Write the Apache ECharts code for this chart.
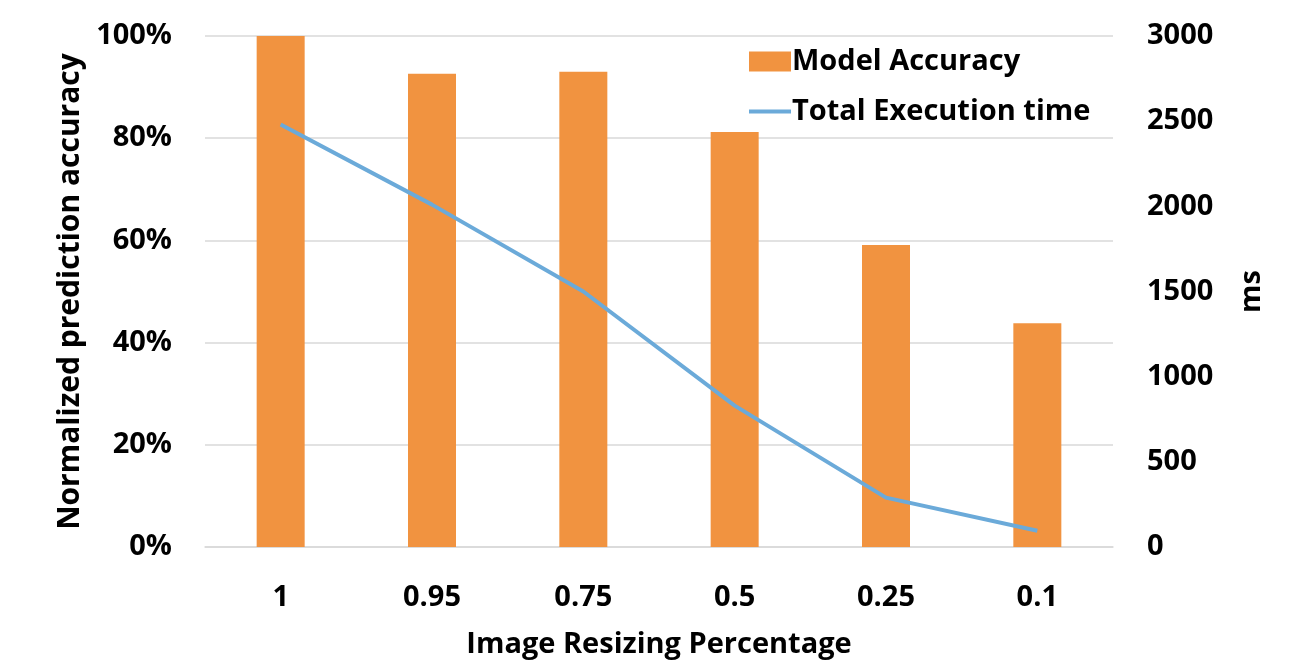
<!DOCTYPE html>
<html><head><meta charset="utf-8">
<script src="https://cdn.jsdelivr.net/npm/echarts@6/dist/echarts.min.js"></script>
<style>html,body{margin:0;padding:0;background:#fff;}#c{width:1316px;height:664px;}</style>
</head><body><div id="c"></div>
<script>
const categories = ['1', '0.95', '0.75', '0.5', '0.25', '0.1'];
const accuracy = [100, 92.6, 93.0, 81.2, 59.1, 43.8];
const execTime = [2480, 2010, 1500, 830, 290, 95];
const leftTicks = [0, 20, 40, 60, 80, 100];
const rightTicks = [0, 500, 1000, 1500, 2000, 2500, 3000];

const FONT = '"Open Sans"';
const chart = echarts.init(document.getElementById('c'), null, {renderer: 'canvas'});
chart.setOption({
  backgroundColor: '#fff',
  animation: false,
  textStyle: {fontFamily: FONT, fontWeight: 'bold', color: '#000'},
  grid: {left: 205, right: 203, top: 36, bottom: 117},
  legend: {
    orient: 'vertical', left: 744, top: 42, itemGap: 21,
    itemWidth: 42, itemHeight: 20,
    textStyle: {fontFamily: FONT, fontWeight: 'bold', fontSize: 29, color: '#000', padding: [0,0,0,-4]},
    data: [{name: 'Model Accuracy', icon: 'rect'},
           {name: 'Total Execution time', icon: 'path://M0,0h44v4h-44z', itemStyle: {color: '#6BAAD9'}}]
  },
  xAxis: {
    type: 'category', data: categories,
    axisLine: {show: true, lineStyle: {color: '#d9d9d9', width: 1.5}},
    axisTick: {show: false},
    axisLabel: {fontFamily: FONT, fontWeight: 'bold', fontSize: 29, color: '#000', margin: 36},
    name: 'Image Resizing Percentage', nameLocation: 'middle', nameGap: 83,
    nameTextStyle: {fontFamily: FONT, fontWeight: 'bold', fontSize: 29, color: '#000'}
  },
  yAxis: [{
    type: 'value', min: 0, max: 100, interval: 20,
    axisLabel: {fontFamily: FONT, fontWeight: 'bold', fontSize: 29, color: '#000', margin: 33,
      padding: [9, 0, 0, 0],
      formatter: v => leftTicks.includes(v) ? v + '%' : ''},
    axisLine: {show: false}, axisTick: {show: false},
    splitLine: {lineStyle: {color: '#d9d9d9', width: 1.5}},
    name: 'Normalized prediction accuracy', nameLocation: 'middle', nameGap: 118, nameRotate: 90,
    nameTextStyle: {fontFamily: FONT, fontWeight: 'bold', fontSize: 30, color: '#000'}
  }, {
    type: 'value', min: 0, max: 3000, interval: 500, position: 'right',
    axisLabel: {fontFamily: FONT, fontWeight: 'bold', fontSize: 29, color: '#000', margin: 34,
      padding: [8, 0, 0, 0],
      formatter: v => rightTicks.includes(v) ? String(v) : ''},
    axisLine: {show: false}, axisTick: {show: false}, splitLine: {show: false},
    name: 'ms', nameLocation: 'middle', nameGap: 124, nameRotate: 90,
    nameTextStyle: {fontFamily: FONT, fontWeight: 'bold', fontSize: 29, color: '#000'}
  }],
  series: [{
    name: 'Model Accuracy', type: 'bar', yAxisIndex: 0, data: accuracy,
    barWidth: 48, itemStyle: {color: '#F19340'}
  }, {
    name: 'Total Execution time', type: 'line', yAxisIndex: 1, data: execTime,
    symbol: 'none', lineStyle: {color: '#6BAAD9', width: 4}, itemStyle: {color: '#6BAAD9'}
  }]
});
</script></body></html>
